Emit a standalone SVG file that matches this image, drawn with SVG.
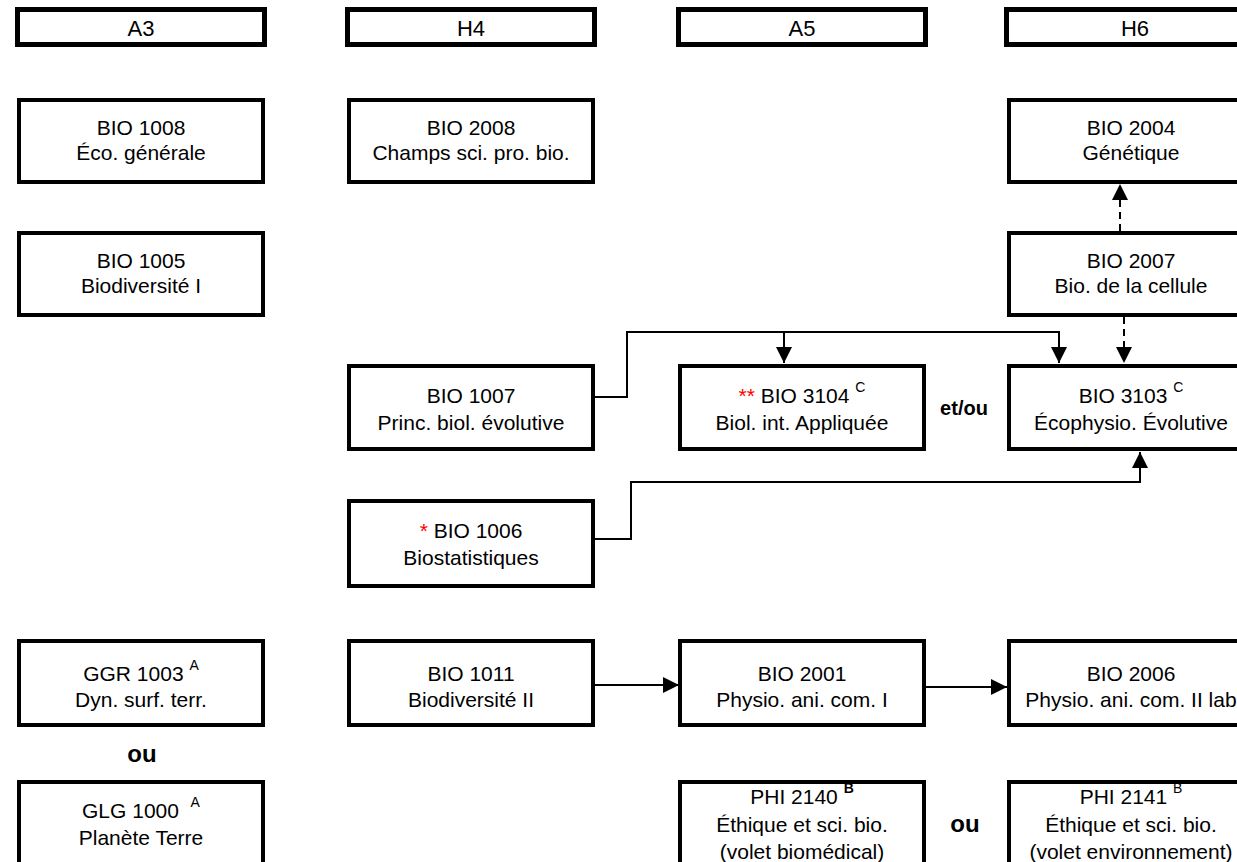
<svg xmlns="http://www.w3.org/2000/svg" width="1237" height="862" viewBox="0 0 1237 862">
<style>
.hdr{fill:#fff;stroke:#000;stroke-width:5}
.box{fill:#fff;stroke:#000;stroke-width:4}
text{font-family:"Liberation Sans",Arial,sans-serif;font-size:21px;fill:#000;text-anchor:middle}
.ht{font-size:22px}
.sup{font-size:14px}
.red{fill:#ff0000}
.bold{font-weight:bold}
.conn{fill:none;stroke:#000;stroke-width:2}
.dash{stroke-dasharray:7 5}
</style>
<defs>
<marker id="arr" viewBox="0 0 16 16" refX="16" refY="8" markerWidth="16" markerHeight="16" markerUnits="userSpaceOnUse" orient="auto">
<path d="M0,0 L16,8 L0,16 z" fill="#000"/>
</marker>
</defs>
<rect width="1237" height="862" fill="#fff"/>

<g id="headers">
<g id="hdr-A3"><rect class="hdr" x="17.5" y="9.5" width="247" height="35"/><text class="ht" x="141" y="36">A3</text></g>
<g id="hdr-H4"><rect class="hdr" x="347.5" y="9.5" width="247" height="35"/><text class="ht" x="471" y="36">H4</text></g>
<g id="hdr-A5"><rect class="hdr" x="678.5" y="9.5" width="247" height="35"/><text class="ht" x="802" y="36">A5</text></g>
<g id="hdr-H6"><rect class="hdr" x="1006.5" y="9.5" width="260" height="35"/><text class="ht" x="1135" y="36">H6</text></g>
</g>

<g id="connectors">
<path class="conn" d="M593,397 H627 V332 H1059 V363" marker-end="url(#arr)"/>
<path class="conn" d="M784,332 V363" marker-end="url(#arr)"/>
<path class="conn dash" d="M1124,317 V363" marker-end="url(#arr)"/>
<path class="conn dash" d="M1120,231 V184" marker-end="url(#arr)"/>
<path class="conn" d="M593,539 H631 V482 H1140 V452" marker-end="url(#arr)"/>
<path class="conn" d="M595,685 H679" marker-end="url(#arr)"/>
<path class="conn" d="M923,687 H1007" marker-end="url(#arr)"/>
</g>

<g id="n-bio1008"><rect class="box" x="19" y="100" width="244" height="82"/><text x="141" y="135">BIO 1008</text><text x="141" y="160">Éco. générale</text></g>
<g id="n-bio2008"><rect class="box" x="349" y="100" width="244" height="82"/><text x="471" y="135">BIO 2008</text><text x="471" y="160">Champs sci. pro. bio.</text></g>
<g id="n-bio2004"><rect class="box" x="1009" y="100" width="244" height="82"/><text x="1131" y="135">BIO 2004</text><text x="1131" y="160">Génétique</text></g>

<g id="n-bio1005"><rect class="box" x="19" y="233" width="244" height="82"/><text x="141" y="268">BIO 1005</text><text x="141" y="293">Biodiversité I</text></g>
<g id="n-bio2007"><rect class="box" x="1009" y="233" width="244" height="82"/><text x="1131" y="268">BIO 2007</text><text x="1131" y="293">Bio. de la cellule</text></g>

<g id="n-bio1007"><rect class="box" x="349" y="366" width="244" height="83"/><text x="471" y="403">BIO 1007</text><text x="471" y="430">Princ. biol. évolutive</text></g>
<g id="n-bio3104"><rect class="box" x="680" y="366" width="244" height="83"/><text x="802" y="403"><tspan class="red">**</tspan> BIO 3104 <tspan class="sup" dy="-11">C</tspan></text><text x="802" y="430">Biol. int. Appliquée</text></g>
<g id="n-bio3103"><rect class="box" x="1009" y="366" width="244" height="83"/><text x="1131" y="403">BIO 3103 <tspan class="sup" dy="-11">C</tspan></text><text x="1131" y="430">Écophysio. Évolutive</text></g>
<text class="bold" x="964" y="415" style="font-size:20px">et/ou</text>

<g id="n-bio1006"><rect class="box" x="349" y="501" width="244" height="85"/><text x="471" y="538"><tspan class="red">*</tspan> BIO 1006</text><text x="471" y="565">Biostatistiques</text></g>

<g id="n-ggr1003"><rect class="box" x="19" y="641" width="244" height="84"/><text x="141" y="681">GGR 1003 <tspan class="sup" dy="-11">A</tspan></text><text x="141" y="707">Dyn. surf. terr.</text></g>
<g id="n-bio1011"><rect class="box" x="349" y="641" width="244" height="84"/><text x="471" y="681">BIO 1011</text><text x="471" y="707">Biodiversité II</text></g>
<g id="n-bio2001"><rect class="box" x="680" y="641" width="244" height="84"/><text x="802" y="681">BIO 2001</text><text x="802" y="707">Physio. ani. com. I</text></g>
<g id="n-bio2006"><rect class="box" x="1009" y="641" width="244" height="84"/><text x="1131" y="681">BIO 2006</text><text x="1131" y="707">Physio. ani. com. II lab</text></g>

<text class="bold" x="142" y="762" style="font-size:24px">ou</text>

<g id="n-glg1000"><rect class="box" x="19" y="782" width="244" height="84"/><text x="141" y="818" xml:space="preserve">GLG 1000  <tspan class="sup" dy="-11">A</tspan></text><text x="141" y="845">Planète Terre</text></g>
<g id="n-phi2140"><rect class="box" x="680" y="782" width="244" height="84"/><text x="802" y="804">PHI 2140 <tspan class="sup bold" dy="-11">B</tspan></text><text x="802" y="832">Éthique et sci. bio.</text><text x="802" y="859">(volet biomédical)</text></g>
<text class="bold" x="965" y="832" style="font-size:24px">ou</text>
<g id="n-phi2141"><rect class="box" x="1009" y="782" width="244" height="84"/><text x="1131" y="804">PHI 2141 <tspan class="sup" dy="-11">B</tspan></text><text x="1131" y="832">Éthique et sci. bio.</text><text x="1131" y="859">(volet environnement)</text></g>
</svg>
